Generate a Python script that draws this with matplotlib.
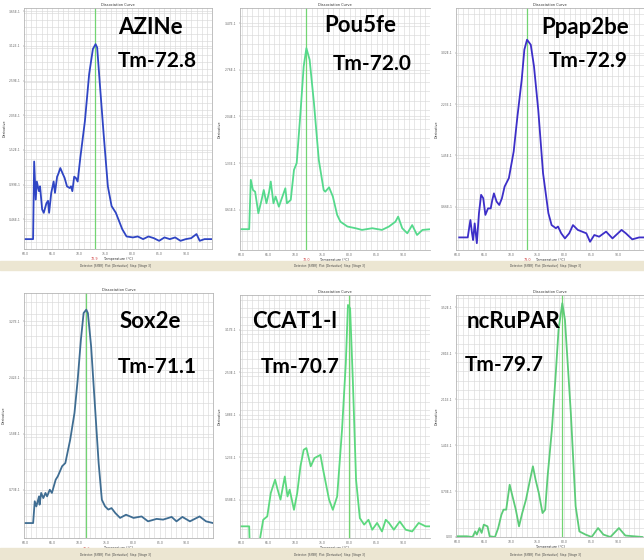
import matplotlib
matplotlib.use("Agg")
import matplotlib.pyplot as plt
from matplotlib.patches import Rectangle
from matplotlib.ticker import MultipleLocator

W, H = 644, 560

GENES = ["AZINe", "Pou5fe", "Ppap2be", "Sox2e", "CCAT1-l", "ncRuPAR"]
TM_LABELS = ["Tm-72.8", "Tm-72.0", "Tm-72.9", "Tm-71.1", "Tm-70.7", "Tm-79.7"]
TM_LINE = [72.9, 72.0, 73.0, 71.3, 79.9, 79.6]
COLORS = ["#2f45c4", "#55d98c", "#3d2fc8", "#3f6d92", "#5cd87e", "#5ccb78"]

# derivative (normalised to plot height) vs temperature (°C)
T_AZINE = [59.8, 61.4, 61.6, 61.9, 62.1, 62.5, 62.7, 63.1, 63.4, 63.9, 64.2, 64.4,
           64.8, 65.25, 65.5, 65.9, 66.1, 66.5, 66.9, 67.3, 67.75, 68.25, 68.5,
           68.75, 69.1, 69.4, 69.75, 70.25, 71.1, 71.9, 72.6, 73.1, 73.4, 73.9,
           74.6, 75.4, 76.1, 76.9, 78.1, 78.9, 80.1, 81.0, 82.0, 83.0, 84.0, 85.0,
           86.0, 87.0, 88.0, 89.0, 90.0, 91.0, 92.0, 92.6, 93.5, 94.8]
D_AZINE = [0.041, 0.041, 0.363, 0.205, 0.28, 0.24, 0.26, 0.164, 0.15, 0.19, 0.2,
           0.15, 0.233, 0.28, 0.233, 0.30, 0.31, 0.336, 0.315, 0.295, 0.26, 0.253,
           0.26, 0.24, 0.30, 0.295, 0.28, 0.38, 0.53, 0.726, 0.83, 0.85, 0.836,
           0.685, 0.48, 0.26, 0.178, 0.15, 0.082, 0.052, 0.048, 0.052, 0.041,
           0.052, 0.045, 0.034, 0.048, 0.041, 0.048, 0.034, 0.041, 0.045, 0.062,
           0.034, 0.041, 0.041]

T_POU5 = [59.8, 61.4, 61.7, 62.1, 62.5, 63.1, 63.7, 64.1, 64.6, 65.1, 65.4, 65.9,
          66.3, 66.9, 68.1, 68.4, 69.1, 69.7, 70.2, 70.9, 71.5, 72.0, 72.6, 73.4,
          74.3, 75.2, 75.5, 76.2, 76.9, 77.7, 78.3, 79.6, 81.1, 82.3, 84.2, 86.0,
          87.3, 88.5, 89.0, 89.75, 90.7, 91.6, 92.5, 93.5, 95.0]
D_POU5 = [0.086, 0.086, 0.29, 0.248, 0.241, 0.152, 0.207, 0.248, 0.193, 0.241,
          0.283, 0.193, 0.221, 0.179, 0.255, 0.193, 0.207, 0.331, 0.359, 0.566,
          0.759, 0.834, 0.786, 0.607, 0.372, 0.248, 0.241, 0.259, 0.221, 0.145,
          0.117, 0.097, 0.09, 0.083, 0.09, 0.083, 0.097, 0.117, 0.138, 0.09,
          0.069, 0.103, 0.062, 0.083, 0.086]

T_PPAP = [60.3, 61.9, 62.2, 62.4, 62.7, 62.9, 63.2, 63.6, 64.0, 64.4, 64.8, 65.2,
          65.7, 66.2, 66.5, 66.8, 67.3, 67.8, 68.3, 68.8, 69.6, 70.5, 71.2, 72.0,
          72.5, 73.0, 73.7, 74.3, 75.1, 76.0, 77.0, 77.6, 78.4, 78.8, 79.4, 80.1,
          80.9, 81.6, 82.5, 84.1, 84.8, 85.6, 86.5, 87.8, 89.0, 90.7, 91.5, 92.7,
          94.0, 94.8]
D_PPAP = [0.052, 0.052, 0.097, 0.124, 0.069, 0.041, 0.11, 0.028, 0.152, 0.228,
          0.214, 0.145, 0.172, 0.172, 0.207, 0.234, 0.2, 0.186, 0.214, 0.262,
          0.297, 0.407, 0.552, 0.703, 0.828, 0.869, 0.848, 0.759, 0.579, 0.317,
          0.152, 0.103, 0.09, 0.097, 0.069, 0.048, 0.069, 0.103, 0.083, 0.069,
          0.034, 0.062, 0.055, 0.076, 0.048, 0.083, 0.069, 0.044, 0.052, 0.052]

T_SOX2 = [59.8, 61.4, 61.7, 62.0, 62.5, 62.6, 62.9, 63.3, 63.7, 64.0, 64.5, 64.9,
          65.6, 66.0, 66.8, 67.4, 68.3, 69.1, 69.7, 70.3, 70.8, 71.3, 71.6, 72.2,
          73.0, 73.6, 74.2, 74.8, 75.4, 76.0, 76.7, 77.6, 78.7, 80.1, 81.6, 82.8,
          84.4, 85.6, 87.2, 88.1, 89.2, 90.6, 92.4, 93.6, 94.9]
D_SOX2 = [0.061, 0.061, 0.15, 0.129, 0.17, 0.136, 0.184, 0.163, 0.184, 0.17,
          0.197, 0.184, 0.238, 0.252, 0.293, 0.306, 0.401, 0.51, 0.646, 0.81,
          0.918, 0.932, 0.918, 0.782, 0.51, 0.306, 0.156, 0.129, 0.116, 0.122,
          0.102, 0.082, 0.095, 0.082, 0.088, 0.068, 0.078, 0.075, 0.086, 0.068,
          0.086, 0.068, 0.088, 0.068, 0.061]

T_CCAT = [59.8, 61.4, 61.5, 63.2, 64.0, 64.75, 65.4, 66.2, 66.6, 67.2, 68.0, 68.5,
          68.9, 69.7, 70.3, 70.9, 71.5, 72.0, 72.8, 73.5, 74.6, 75.1, 76.2, 76.9,
          77.7, 78.6, 79.3, 79.7, 80.1, 80.6, 81.2, 81.9, 82.7, 83.5, 84.2, 85.1,
          86.0, 86.7, 87.3, 88.2, 89.3, 90.4, 91.6, 92.8, 94.1, 95.0]
D_CCAT = [0.048, 0.048, -0.03, -0.03, 0.075, 0.089, 0.185, 0.24, 0.205, 0.158,
          0.253, 0.171, 0.199, 0.116, 0.185, 0.295, 0.363, 0.37, 0.295, 0.329,
          0.342, 0.281, 0.158, 0.116, 0.171, 0.445, 0.719, 0.959, 0.945, 0.651,
          0.24, 0.082, 0.055, 0.075, 0.034, 0.062, 0.027, 0.075, 0.062, 0.034,
          0.068, 0.034, 0.027, 0.062, 0.048, 0.048]

T_NCRU = [60.0, 61.7, 62.8, 63.3, 63.6, 64.1, 64.5, 64.9, 65.6, 66.0, 67.0, 67.6,
          68.2, 68.6, 69.1, 69.75, 70.2, 70.9, 71.5, 72.1, 72.8, 73.5, 74.1, 74.6,
          75.2, 75.9, 76.4, 76.85, 77.65, 78.3, 78.9, 79.6, 80.1, 81.2, 82.1, 82.8,
          83.95, 85.1, 86.3, 87.3, 88.6, 90.2, 91.4, 94.6]
D_NCRU = [0.003, 0.003, 0.0, 0.023, 0.01, 0.037, 0.017, 0.051, 0.044, 0.003, 0.0,
          0.037, 0.092, 0.113, 0.113, 0.216, 0.175, 0.113, 0.044, 0.099, 0.154,
          0.23, 0.292, 0.237, 0.182, 0.099, 0.113, 0.25, 0.443, 0.649, 0.856,
          0.966, 0.897, 0.512, 0.127, 0.023, 0.01, 0.0, 0.037, 0.01, 0.0, 0.037,
          0.006, 0.0]

SERIES = [(T_AZINE, D_AZINE), (T_POU5, D_POU5), (T_PPAP, D_PPAP),
          (T_SOX2, D_SOX2), (T_CCAT, D_CCAT), (T_NCRU, D_NCRU)]
# y tick start / step (normalised units) for each screenshot
YT0 = [0.123, 0.166, 0.179, 0.197, 0.158, 0.0]
YSTEP = [0.144, 0.193, 0.212, 0.229, 0.175, 0.19]

# layout in pixels: (left, top, right, bottom) of each plot area
RECTS = [(24, 8, 212, 249), (240, 8, 430, 250), (456, 8, 644, 250),
         (24, 293, 213, 538), (240, 295, 430, 538), (456, 295, 644, 537)]
NAME_XY = [(150, 27), (360, 26), (585, 27), (150, 321), (295, 322), (514, 322)]
TM_XY = [(157, 61), (372, 64), (588, 61), (157, 367), (300, 367), (504, 365)]


def fx(px):
    return px / W


def fy(py):
    return 1 - py / H


fig = plt.figure(figsize=(W / 100, H / 100), dpi=100)

# beige control strips under each row of screenshots
for top, bot, py in [(261, 270, 265.5), (548, 560, 555)]:
    fig.patches.append(Rectangle((0, fy(bot)), 1, (bot - top) / H,
                                 transform=fig.transFigure, color="#ece6d2",
                                 zorder=0))
    for cx in (115, 330, 545):
        fig.text(fx(cx), fy(py), "Detector: [SYBR]  Plot: [Derivative]  Step: [Stage 3]",
                 fontsize=2.0, ha="center", va="center", color="#444")

for i, (t, d) in enumerate(SERIES):
    l, tp, r, b = RECTS[i]
    ax = fig.add_axes([fx(l), fy(b), (r - l) / W, (b - tp) / H])
    ax.plot(t, d, color=COLORS[i], lw=1.3, solid_joinstyle="round")
    ax.axvline(TM_LINE[i], color="#72d472", lw=0.9, zorder=1)
    ax.set_xlim(59.7, 94.9)
    ax.set_ylim(0, 1)
    ax.xaxis.set_major_locator(MultipleLocator(5))
    ax.xaxis.set_minor_locator(MultipleLocator(1))
    yt = [YT0[i] + k * YSTEP[i] for k in range(8) if YT0[i] + k * YSTEP[i] < 1]
    ax.set_yticks(yt)
    ax.set_yticklabels([f"{v * 3.7:.2f}E-1" if v > 0 else "0.00" for v in yt])
    ax.yaxis.set_minor_locator(MultipleLocator(YSTEP[i] / 5))
    ax.set_xticklabels([f"{v:.1f}" for v in ax.get_xticks()])
    ax.tick_params(labelsize=2.2, length=1, width=0.3, colors="#666", pad=1.5)
    ax.tick_params(which="minor", length=0)
    ax.grid(which="both", color="#dadada", lw=0.45)
    ax.set_axisbelow(True)
    for s in ax.spines.values():
        s.set_color("#b5b5b5")
        s.set_linewidth(0.6)
    if i in (1, 2, 4, 5):
        ax.spines["right"].set_visible(False)
    ax.set_title("Dissociation Curve", fontsize=2.6, pad=1.5, color="#333")
    ax.set_xlabel("Temperature (°C)", fontsize=2.4, labelpad=0.5, color="#333")
    ax.set_ylabel("Derivative", fontsize=2.4, color="#333")
    ax.yaxis.set_label_coords(-0.095, 0.5)
    # red Tm marker under the axis; nudged right where it would hit the x label
    if TM_LINE[i] > 77:
        ax.text(TM_LINE[i] + 0.4, -0.045, f"{TM_LINE[i]:.1f}",
                transform=ax.get_xaxis_transform(), fontsize=2.4,
                color="#d04040", ha="left", va="top")
    else:
        ax.text(TM_LINE[i], -0.035, f"{TM_LINE[i]:.1f}",
                transform=ax.get_xaxis_transform(), fontsize=2.4,
                color="#d04040", ha="center", va="top")

    fig.text(fx(NAME_XY[i][0]), fy(NAME_XY[i][1]), GENES[i], fontsize=16,
             fontweight="bold", family="Lato", ha="center", va="center")
    fig.text(fx(TM_XY[i][0]), fy(TM_XY[i][1]), TM_LABELS[i], fontsize=15,
             fontweight="bold", family="Lato", ha="center", va="center")

fig.savefig("out.png", dpi=100)
